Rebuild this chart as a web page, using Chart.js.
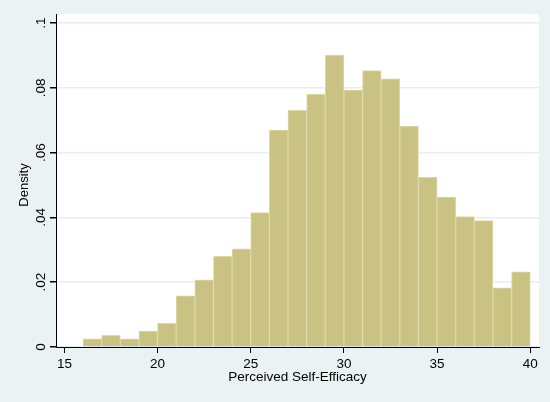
<!DOCTYPE html>
<html>
<head>
<meta charset="utf-8">
<script src="https://cdn.jsdelivr.net/npm/chart.js@4.4.1/dist/chart.umd.min.js"></script>
<style>
  html, body { margin: 0; padding: 0; background: #eaf2f3; }
  #wrap { width: 550px; height: 402px; }
</style>
</head>
<body>
<div id="wrap"><canvas id="c" width="550" height="402"></canvas></div>
<script>
// Histogram bins (left edges, width 1) and their densities
const binStarts = [16,17,18,19,20,21,22,23,24,25,26,27,28,29,30,31,32,33,34,35,36,37,38,39];
const densities = [0.0025,0.0036,0.0025,0.0049,0.0073,0.0158,0.0207,0.0280,0.0303,0.0415,
                   0.0670,0.0731,0.0780,0.0901,0.0793,0.0853,0.0828,0.0682,0.0524,0.0463,
                   0.0403,0.0390,0.0183,0.0232];
const binWidth = 1;
const xTicks = [15,20,25,30,35,40];
const yTickValues = [0,0.02,0.04,0.06,0.08,0.1];
const yTickLabels = ['0','.02','.04','.06','.08','.1'];
const xTitle = 'Perceived Self-Efficacy';
const yTitle = 'Density';

const FONT = '"Liberation Sans", Arial, Helvetica, sans-serif';
const BG = '#eaf2f3';

const points = binStarts.map((s, i) => ({ x: s + binWidth / 2, y: densities[i] }));

const bgPlugin = {
  id: 'bg',
  beforeDraw(chart) {
    const { ctx, chartArea: a } = chart;
    ctx.save();
    ctx.fillStyle = BG;
    ctx.fillRect(0, 0, chart.width, chart.height);
    ctx.fillStyle = '#ffffff';
    ctx.fillRect(a.left, a.top, a.right - a.left, a.bottom - a.top);
    ctx.restore();
  },
  afterDraw(chart) {
    const { ctx } = chart;
    const ys = chart.scales.y;
    ctx.save();
    ctx.fillStyle = '#000';
    ctx.font = '13.5px ' + FONT;
    ctx.textAlign = 'center';
    ctx.textBaseline = 'alphabetic';
    yTickValues.forEach((v, i) => {
      const py = ys.getPixelForValue(v);
      ctx.save();
      ctx.translate(45, py);
      ctx.rotate(-Math.PI / 2);
      ctx.fillText(yTickLabels[i], 0, 0);
      ctx.restore();
    });
    ctx.font = '13px ' + FONT;
    ctx.save();
    ctx.translate(28, 185);
    ctx.rotate(-Math.PI / 2);
    ctx.fillText(yTitle, 0, 0);
    ctx.restore();
    ctx.restore();
  }
};

new Chart(document.getElementById('c'), {
  type: 'bar',
  data: {
    datasets: [{
      data: points,
      backgroundColor: '#c9c283',
      borderColor: '#ddd8a6',
      borderWidth: 1,
      barPercentage: 1,
      categoryPercentage: 1
    }]
  },
  options: {
    responsive: false,
    animation: false,
    devicePixelRatio: 1,
    layout: { padding: { top: 14, right: 11, left: 0, bottom: 0 } },
    plugins: { legend: { display: false }, tooltip: { enabled: false } },
    scales: {
      x: {
        type: 'linear',
        offset: false,
        min: 14.55,
        max: 40.47,
        afterBuildTicks(scale) { scale.ticks = xTicks.map(v => ({ value: v })); },
        afterFit(scale) { scale.height = 55; },
        grid: { display: true, offset: false, drawOnChartArea: false, drawTicks: true, tickLength: 6, tickColor: '#000', color: '#000' },
        border: { display: true, color: '#000', width: 1 },
        ticks: { color: '#000', font: { family: FONT, size: 13.5 }, padding: 3, maxRotation: 0, minRotation: 0, autoSkip: false },
        title: { display: true, text: xTitle, color: '#000', font: { family: FONT, size: 13.5 }, padding: { top: 0, bottom: 17 } }
      },
      y: {
        type: 'linear',
        min: 0,
        max: 0.1028,
        afterBuildTicks(scale) { scale.ticks = yTickValues.map(v => ({ value: v })); },
        afterFit(scale) { scale.width = 56; },
        grid: { display: true, drawOnChartArea: true, drawTicks: true, tickLength: 6, color: '#e6eef0', tickColor: '#000', lineWidth: 1.5 },
        border: { display: true, color: '#000', width: 1 },
        ticks: { display: false }
      }
    }
  },
  plugins: [bgPlugin]
});
</script>
</body>
</html>
